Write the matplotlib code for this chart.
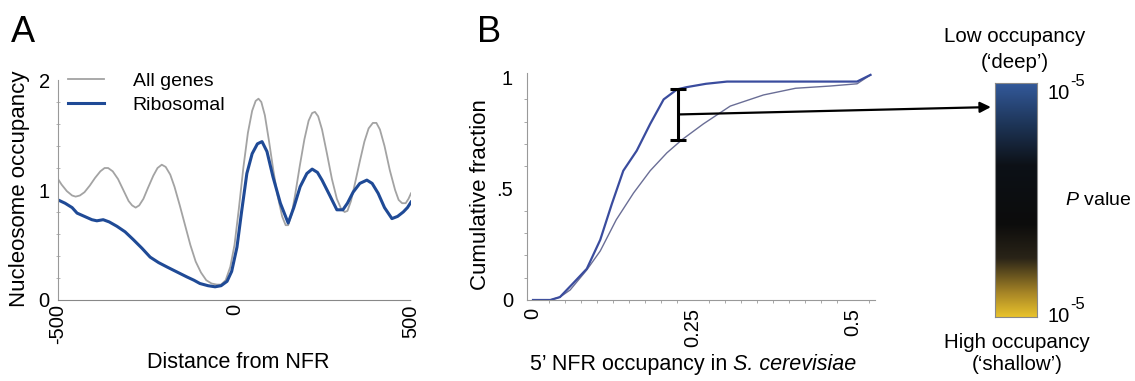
import numpy as np
import matplotlib
matplotlib.use("Agg")
import matplotlib.pyplot as plt
from matplotlib.colors import LinearSegmentedColormap

plt.rcParams['font.family'] = ['Liberation Sans', 'DejaVu Sans']
plt.rcParams['mathtext.fontset'] = 'custom'
plt.rcParams['mathtext.rm'] = 'Liberation Sans'
plt.rcParams['mathtext.it'] = 'Liberation Sans:italic'

# panel A: nucleosome occupancy around the NFR
all_x = [-500, -490, -475, -460, -450, -438, -425, -410, -395, -380, -368, -358, -345, -330,
         -315, -300, -290, -280, -270, -258, -245, -230, -218, -206, -195, -182, -170, -155,
         -140, -125, -110, -95, -80, -65, -50, -38, -25, -12, 0, 12, 25, 38, 50, 60, 68, 76,
         86, 98, 110, 122, 135, 145, 152, 162, 172, 185, 198, 210, 220, 228, 237, 248, 262,
         276, 290, 302, 312, 320, 330, 342, 355, 368, 380, 392, 402, 412, 425, 440, 455, 465,
         475, 485, 493, 500]
all_y = [1.10, 1.05, 0.99, 0.95, 0.94, 0.95, 0.98, 1.04, 1.11, 1.17, 1.20, 1.20, 1.17, 1.10,
         1.00, 0.90, 0.86, 0.84, 0.86, 0.92, 1.02, 1.13, 1.20, 1.23, 1.21, 1.14, 1.03, 0.86,
         0.68, 0.50, 0.35, 0.25, 0.18, 0.15, 0.14, 0.14, 0.18, 0.30, 0.50, 0.82, 1.20, 1.52,
         1.72, 1.81, 1.83, 1.80, 1.68, 1.44, 1.18, 0.95, 0.76, 0.68, 0.68, 0.78, 0.96, 1.22,
         1.46, 1.63, 1.70, 1.71, 1.67, 1.55, 1.33, 1.10, 0.92, 0.83, 0.80, 0.81, 0.90, 1.07,
         1.26, 1.44, 1.56, 1.61, 1.61, 1.55, 1.40, 1.18, 1.00, 0.91, 0.88, 0.88, 0.92, 0.97]
ribo_x = [-500, -480, -460, -446, -425, -404, -390, -372, -355, -333, -310, -287, -262, -239,
          -215, -191, -160, -135, -115, -98, -75, -55, -38, -21, -8, 7, 20, 35, 50, 65, 78,
          92, 109, 130, 152, 168, 186, 205, 220, 235, 248, 270, 290, 307, 320, 336, 355, 375,
          390, 407, 425, 446, 462, 478, 490, 500]
ribo_y = [0.91, 0.88, 0.84, 0.79, 0.76, 0.73, 0.72, 0.73, 0.71, 0.67, 0.62, 0.55, 0.47, 0.39,
          0.34, 0.30, 0.25, 0.21, 0.18, 0.15, 0.13, 0.12, 0.13, 0.17, 0.26, 0.48, 0.80, 1.15,
          1.33, 1.42, 1.44, 1.35, 1.12, 0.88, 0.70, 0.84, 1.03, 1.15, 1.19, 1.16, 1.09, 0.95,
          0.82, 0.82, 0.88, 0.98, 1.06, 1.09, 1.06, 0.97, 0.84, 0.74, 0.76, 0.80, 0.84, 0.89]

# panel B: cumulative fraction of 5' NFR occupancy
cum_all_x = [0, 0.027, 0.042, 0.058, 0.084, 0.105, 0.13, 0.157, 0.183, 0.209, 0.233, 0.266,
             0.308, 0.36, 0.41, 0.464, 0.506, 0.527]
cum_all_y = [0, 0, 0.013, 0.045, 0.135, 0.22, 0.36, 0.48, 0.58, 0.66, 0.72, 0.79, 0.87, 0.92,
             0.95, 0.96, 0.97, 1.01]
cum_ribo_x = [0, 0.027, 0.042, 0.063, 0.084, 0.105, 0.123, 0.141, 0.162, 0.183, 0.204, 0.225,
              0.24, 0.27, 0.303, 0.506, 0.527]
cum_ribo_y = [0, 0, 0.013, 0.076, 0.14, 0.27, 0.43, 0.58, 0.67, 0.79, 0.90, 0.945, 0.955,
              0.97, 0.98, 0.98, 1.01]
bar_x = 0.227
bar_lo, bar_hi = 0.72, 0.945

fig = plt.figure(figsize=(11.35, 3.81), dpi=100)

# ---- A ----
axA = fig.add_axes([0.0511, 0.2126, 0.311, 0.5774])
axA.plot(all_x, all_y, color='#a3a3a3', lw=1.3, label='All genes')
axA.plot(ribo_x, ribo_y, color='#1f4a96', lw=2.2, label='Ribosomal')
axA.set_xlim(-500, 500)
axA.set_ylim(0, 2)
axA.set_xticks([-500, 0, 500])
axA.set_xticklabels(['-500', '0', '500'], rotation=90, fontsize=14.5)
axA.set_yticks([0, 1, 2])
axA.set_yticklabels(['0', '1', '2'], fontsize=14.5)
axA.set_yticks(np.arange(0, 2.01, 0.2), minor=True)
axA.tick_params(axis='y', which='major', length=0, pad=6)
axA.tick_params(axis='y', which='minor', length=2.5, direction='inout', color='#aaaaaa')
axA.tick_params(axis='x', length=0, pad=3)
for s in ['top', 'right']:
    axA.spines[s].set_visible(False)
axA.spines['left'].set_color('#999999')
axA.spines['bottom'].set_color('#888888')
axA.spines['bottom'].set_linestyle((0, (1, 1)))
axA.legend(loc='upper left', bbox_to_anchor=(0.0, 1.08), frameon=False, fontsize=14,
           handlelength=1.85, handletextpad=1.5, labelspacing=0.35, borderaxespad=0,
           borderpad=0.5)
fig.text(0.210, 0.048, 'Distance from NFR', fontsize=15.5, ha='center', va='center')
fig.text(0.017, 0.505, 'Nucleosome occupancy', fontsize=16, ha='center', va='center',
         rotation=90)
fig.text(0.010, 0.915, 'A', fontsize=26, ha='left', va='center')

# ---- B ----
axB = fig.add_axes([0.4643, 0.2126, 0.3066, 0.5967])
axB.plot(cum_all_x, cum_all_y, color='#6a6e96', lw=1.0)
axB.plot(cum_ribo_x, cum_ribo_y, color='#3a4c9e', lw=1.6)
axB.errorbar([bar_x], [(bar_lo + bar_hi) / 2], yerr=[(bar_hi - bar_lo) / 2],
             color='black', lw=2.2, capsize=6, capthick=2.2)
axB.set_xlim(-0.0094, 0.534)
axB.set_ylim(0, 1.02)
axB.set_xticks([0, 0.25, 0.5])
axB.set_xticklabels(['0', '0.25', '0.5'], rotation=90, fontsize=14.5)
axB.set_xticks(np.arange(0, 0.53, 0.025), minor=True)
axB.set_yticks([0, 0.5, 1])
axB.set_yticklabels(['0', '.5', '1'], fontsize=14.5)
axB.set_yticks(np.arange(0, 1.01, 0.1), minor=True)
axB.tick_params(which='major', length=0)
axB.tick_params(axis='y', which='major', pad=10)
axB.tick_params(axis='x', which='major', pad=6)
axB.tick_params(which='minor', length=2.5, color='#999999')
for s in ['top', 'right']:
    axB.spines[s].set_visible(False)
axB.spines['left'].set_color('#999999')
axB.spines['bottom'].set_color('#999999')
axB.annotate('', xy=(0.873, 0.719), xycoords='figure fraction',
             xytext=(bar_x, (bar_lo + bar_hi) / 2), textcoords='data',
             arrowprops=dict(arrowstyle='-|>', color='black', lw=1.6, mutation_scale=16,
                             shrinkA=0, shrinkB=0), annotation_clip=False)

# x label of B: plain part followed by the italic species name
renderer = fig.canvas.get_renderer()
t1 = fig.text(0, 0.042, "5\u2019 NFR occupancy in ", fontsize=15.5, va='center')
t2 = fig.text(0, 0.042, "S. cerevisiae", fontsize=15.5, va='center', style='italic')
w1 = t1.get_window_extent(renderer).width / fig.bbox.width
w2 = t2.get_window_extent(renderer).width / fig.bbox.width
x0 = 0.611 - (w1 + w2) / 2
t1.set_x(x0)
t2.set_x(x0 + w1)

fig.text(0.423, 0.49, 'Cumulative fraction', fontsize=16, ha='center', va='center',
         rotation=90)
fig.text(0.420, 0.915, 'B', fontsize=26, ha='left', va='center')

# ---- colour bar ----
cmap = LinearSegmentedColormap.from_list('pval', [
    (0.0, '#e8c22c'), (0.10, '#a88626'), (0.25, '#2a2418'), (0.40, '#0c0c0c'),
    (0.65, '#0d1117'), (0.82, '#1d3456'), (1.0, '#33599a')])
axC = fig.add_axes([0.8767, 0.168, 0.037, 0.614])
axC.imshow(np.linspace(0, 1, 256)[:, None], aspect='auto', cmap=cmap, origin='lower',
           extent=[0, 1, 0, 1])
axC.set_xticks([])
axC.set_yticks([])
for s in axC.spines.values():
    s.set_color('#888888')
    s.set_linewidth(0.8)
fig.text(0.894, 0.905, 'Low occupancy', fontsize=14.8, ha='center', va='center')
fig.text(0.894, 0.835, "(\u2018deep\u2019)", fontsize=14.8, ha='center', va='center')
for yy in [0.755, 0.170]:
    fig.text(0.923, yy, '10', fontsize=14.5, ha='left', va='center')
    fig.text(0.943, yy + 0.032, '-5', fontsize=12, ha='left', va='center')
fig.text(0.938, 0.475, '$\\mathit{P}$ value', fontsize=14, ha='left', va='center')
fig.text(0.896, 0.100, 'High occupancy', fontsize=14.8, ha='center', va='center')
fig.text(0.896, 0.043, "(\u2018shallow\u2019)", fontsize=14.8, ha='center', va='center')

fig.savefig('out.png', dpi=100)
